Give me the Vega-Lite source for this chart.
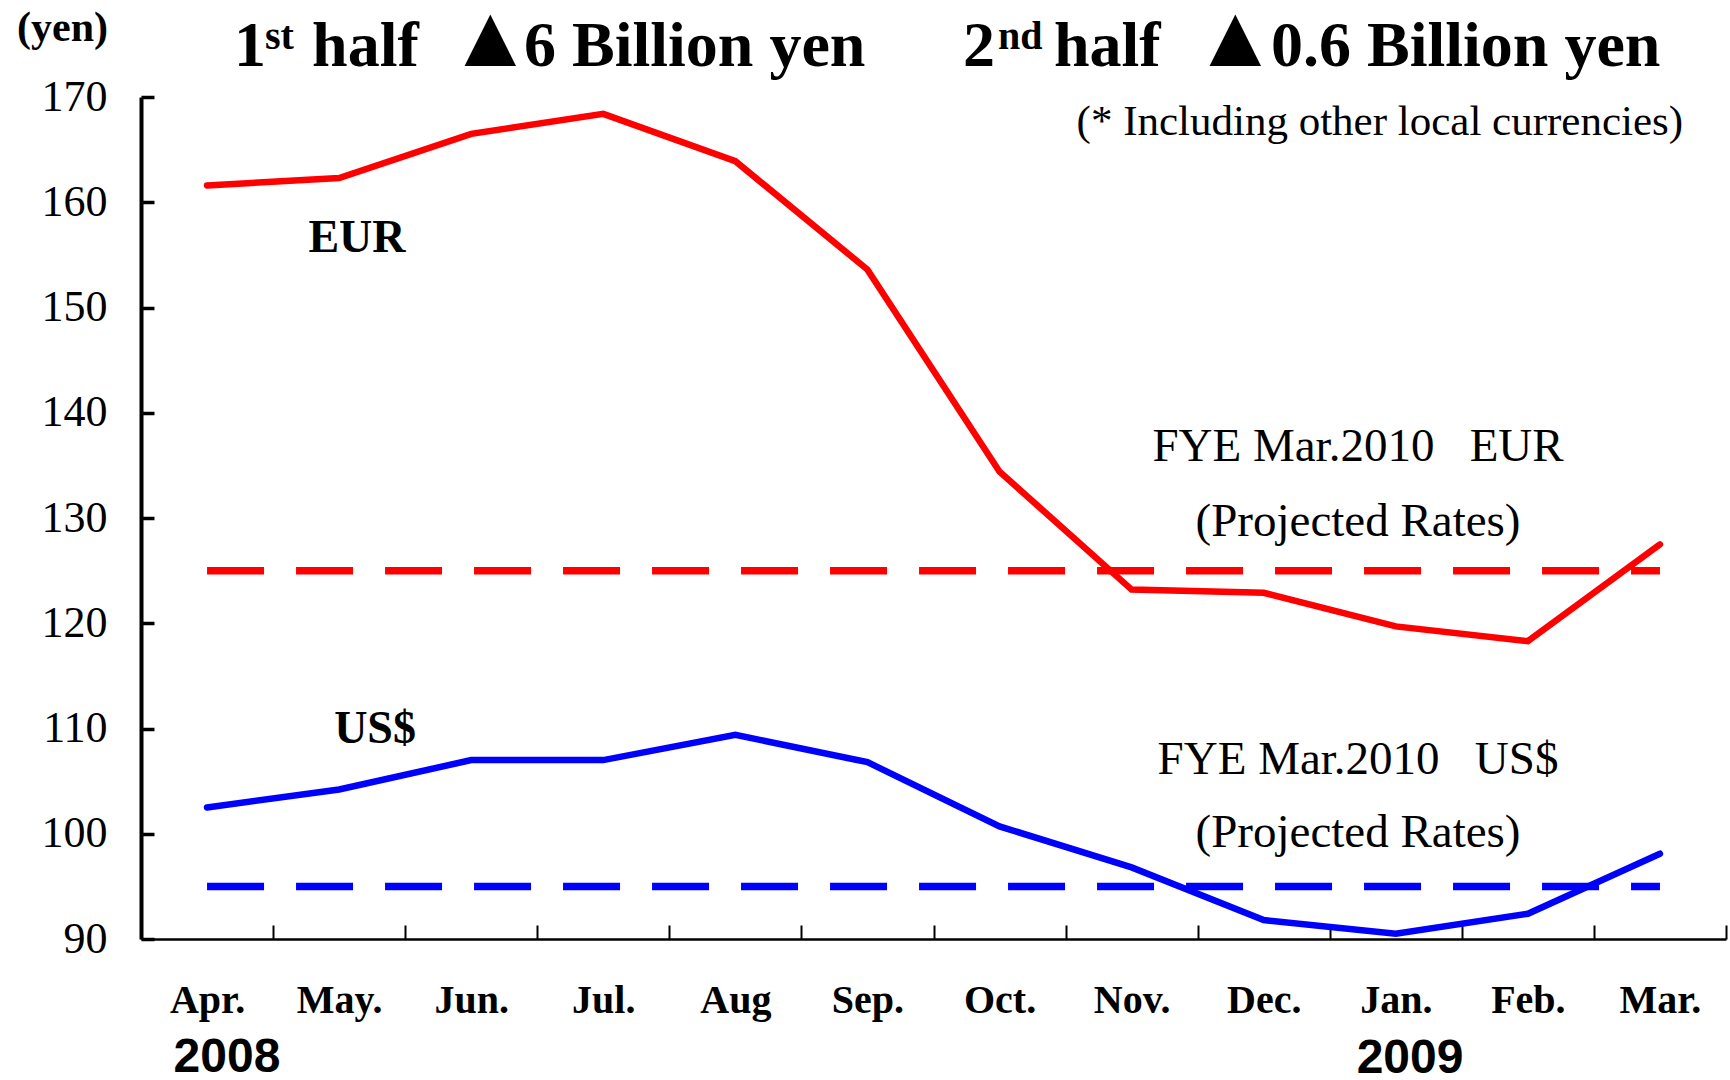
{
  "$schema": "https://vega.github.io/schema/vega-lite/v6.json",
  "width": 1585,
  "height": 842,
  "autosize": {"type": "none"},
  "padding": {"left": 141, "top": 97, "right": 4, "bottom": 141},
  "background": "white",
  "config": {"view": {"stroke": null}, "font": "Liberation Serif"},
  "datasets": {
    "fx": [
      {"currency": "EUR", "month": "Apr.", "rate": 161.6},
      {"currency": "EUR", "month": "May.", "rate": 162.3},
      {"currency": "EUR", "month": "Jun.", "rate": 166.5},
      {"currency": "EUR", "month": "Jul.", "rate": 168.4},
      {"currency": "EUR", "month": "Aug", "rate": 163.9},
      {"currency": "EUR", "month": "Sep.", "rate": 153.6},
      {"currency": "EUR", "month": "Oct.", "rate": 134.4},
      {"currency": "EUR", "month": "Nov.", "rate": 123.2},
      {"currency": "EUR", "month": "Dec.", "rate": 122.9},
      {"currency": "EUR", "month": "Jan.", "rate": 119.7},
      {"currency": "EUR", "month": "Feb.", "rate": 118.3},
      {"currency": "EUR", "month": "Mar.", "rate": 127.5},
      {"currency": "US$", "month": "Apr.", "rate": 102.5},
      {"currency": "US$", "month": "May.", "rate": 104.2},
      {"currency": "US$", "month": "Jun.", "rate": 107.0},
      {"currency": "US$", "month": "Jul.", "rate": 107.0},
      {"currency": "US$", "month": "Aug", "rate": 109.4},
      {"currency": "US$", "month": "Sep.", "rate": 106.8},
      {"currency": "US$", "month": "Oct.", "rate": 100.7},
      {"currency": "US$", "month": "Nov.", "rate": 96.8},
      {"currency": "US$", "month": "Dec.", "rate": 91.8},
      {"currency": "US$", "month": "Jan.", "rate": 90.5},
      {"currency": "US$", "month": "Feb.", "rate": 92.4},
      {"currency": "US$", "month": "Mar.", "rate": 98.1}
    ],
    "proj": [
      {"currency": "EUR", "month": "Apr.", "rate": 125},
      {"currency": "EUR", "month": "Mar.", "rate": 125},
      {"currency": "US$", "month": "Apr.", "rate": 95},
      {"currency": "US$", "month": "Mar.", "rate": 95}
    ],
    "notes": [
      {"kind": "title", "text": "1", "pos": 0.704, "value": 172.9},
      {"kind": "title", "text": "half", "pos": 1.295, "value": 172.9},
      {"kind": "title", "text": "6 Billion yen", "pos": 2.9, "value": 172.9},
      {"kind": "title", "text": "2", "pos": 6.224, "value": 172.9},
      {"kind": "title", "text": "half", "pos": 6.912, "value": 172.9},
      {"kind": "title", "text": "0.6 Billion yen", "pos": 8.555, "value": 172.9},
      {"kind": "triangle", "text": "▲", "pos": 2.315, "value": 172.9},
      {"kind": "triangle", "text": "▲", "pos": 7.955, "value": 172.9},
      {"kind": "sup", "text": "st", "pos": 0.939, "value": 174.6},
      {"kind": "sup", "text": "nd", "pos": 6.489, "value": 174.6},
      {"kind": "note", "text": "(* Including other local currencies)", "pos": 11.675, "value": 166.4},
      {"kind": "projection", "text": "FYE Mar.2010\u00a0\u00a0\u00a0EUR", "pos": 9.214, "value": 135.42},
      {"kind": "projection", "text": "(Projected Rates)", "pos": 9.214, "value": 128.3},
      {"kind": "projection", "text": "FYE Mar.2010\u00a0\u00a0\u00a0US$", "pos": 9.214, "value": 105.7},
      {"kind": "projection", "text": "(Projected Rates)", "pos": 9.214, "value": 98.74},
      {"kind": "series", "text": "EUR", "pos": 1.635, "value": 155.27},
      {"kind": "series", "text": "US$", "pos": 1.772, "value": 108.62},
      {"kind": "year", "text": "2008", "pos": 0.651, "value": 77.36},
      {"kind": "year", "text": "2009", "pos": 9.608, "value": 77.25}
    ]
  },
  "layer": [
    {
      "layer": [
        {
          "data": {"name": "proj"},
          "mark": {"type": "line", "strokeDash": [57, 32], "strokeWidth": 7.5, "strokeCap": "butt"},
          "encoding": {
            "x": {
              "field": "month", "type": "nominal",
              "scale": {"type": "band", "domain": ["Apr.", "May.", "Jun.", "Jul.", "Aug", "Sep.", "Oct.", "Nov.", "Dec.", "Jan.", "Feb.", "Mar."], "paddingInner": 0, "paddingOuter": 0},
              "axis": {
                "title": null, "labelAngle": 0, "grid": false,
                "domainColor": "black", "domainWidth": 2.5,
                "tickColor": "black", "tickWidth": 2, "tickSize": -14, "tickBand": "extent",
                "labelFont": "Liberation Serif", "labelFontWeight": "bold", "labelFontSize": 40, "labelColor": "black",
                "labelPadding": 55
              }
            },
            "y": {
              "field": "rate", "type": "quantitative",
              "scale": {"domain": [90, 170], "nice": false, "zero": false},
              "axis": {
                "title": "(yen)", "titleAngle": 0, "titleX": -79, "titleY": -57, "titleAlign": "center", "titleBaseline": "alphabetic",
                "titleFont": "Liberation Serif", "titleFontWeight": "bold", "titleFontSize": 42, "titleColor": "black",
                "values": [90, 100, 110, 120, 130, 140, 150, 160, 170], "format": "d", "grid": false,
                "domainColor": "black", "domainWidth": 4,
                "tickColor": "black", "tickWidth": 3.5, "tickSize": -13,
                "labelFont": "Liberation Serif", "labelFontSize": 44, "labelColor": "black", "labelPadding": 47
              }
            },
            "color": {"field": "currency", "type": "nominal", "scale": {"domain": ["EUR", "US$"], "range": ["#ff0000", "#0000ff"]}, "legend": null}
          }
        },
        {
          "data": {"name": "fx"},
          "mark": {"type": "line", "strokeWidth": 6.5, "strokeCap": "round"},
          "encoding": {
            "x": {"field": "month", "type": "nominal"},
            "y": {"field": "rate", "type": "quantitative"},
            "color": {"field": "currency", "type": "nominal", "legend": null}
          }
        }
      ]
    },
    {
      "data": {"name": "notes"},
      "transform": [{"filter": "datum.kind === 'title'"}],
      "mark": {"type": "text", "font": "Liberation Serif", "fontWeight": "bold", "fontSize": 64, "align": "left", "baseline": "alphabetic", "color": "black"},
      "encoding": {
        "x": {"field": "pos", "type": "quantitative", "scale": {"domain": [0, 12], "nice": false, "zero": false}, "axis": null},
        "y": {"field": "value", "type": "quantitative"},
        "text": {"field": "text"}
      }
    },
    {
      "data": {"name": "notes"},
      "transform": [{"filter": "datum.kind === 'triangle'"}],
      "mark": {"type": "text", "font": "Liberation Serif", "fontWeight": "bold", "fontSize": 88, "align": "left", "baseline": "alphabetic", "color": "black"},
      "encoding": {
        "x": {"field": "pos", "type": "quantitative", "scale": {"domain": [0, 12], "nice": false, "zero": false}, "axis": null},
        "y": {"field": "value", "type": "quantitative"},
        "text": {"field": "text"}
      }
    },
    {
      "data": {"name": "notes"},
      "transform": [{"filter": "datum.kind === 'sup'"}],
      "mark": {"type": "text", "font": "Liberation Serif", "fontWeight": "bold", "fontSize": 40, "align": "left", "baseline": "alphabetic", "color": "black"},
      "encoding": {
        "x": {"field": "pos", "type": "quantitative", "scale": {"domain": [0, 12], "nice": false, "zero": false}, "axis": null},
        "y": {"field": "value", "type": "quantitative"},
        "text": {"field": "text"}
      }
    },
    {
      "data": {"name": "notes"},
      "transform": [{"filter": "datum.kind === 'note'"}],
      "mark": {"type": "text", "font": "Liberation Serif", "fontSize": 43, "align": "right", "baseline": "alphabetic", "color": "black"},
      "encoding": {
        "x": {"field": "pos", "type": "quantitative", "scale": {"domain": [0, 12], "nice": false, "zero": false}, "axis": null},
        "y": {"field": "value", "type": "quantitative"},
        "text": {"field": "text"}
      }
    },
    {
      "data": {"name": "notes"},
      "transform": [{"filter": "datum.kind === 'projection'"}],
      "mark": {"type": "text", "font": "Liberation Serif", "fontSize": 47, "align": "center", "baseline": "alphabetic", "color": "black"},
      "encoding": {
        "x": {"field": "pos", "type": "quantitative", "scale": {"domain": [0, 12], "nice": false, "zero": false}, "axis": null},
        "y": {"field": "value", "type": "quantitative"},
        "text": {"field": "text"}
      }
    },
    {
      "data": {"name": "notes"},
      "transform": [{"filter": "datum.kind === 'series'"}],
      "mark": {"type": "text", "font": "Liberation Serif", "fontWeight": "bold", "fontSize": 46, "align": "center", "baseline": "alphabetic", "color": "black"},
      "encoding": {
        "x": {"field": "pos", "type": "quantitative", "scale": {"domain": [0, 12], "nice": false, "zero": false}, "axis": null},
        "y": {"field": "value", "type": "quantitative"},
        "text": {"field": "text"}
      }
    },
    {
      "data": {"name": "notes"},
      "transform": [{"filter": "datum.kind === 'year'"}],
      "mark": {"type": "text", "font": "Liberation Sans", "fontWeight": "bold", "fontSize": 48, "align": "center", "baseline": "alphabetic", "color": "black"},
      "encoding": {
        "x": {"field": "pos", "type": "quantitative", "scale": {"domain": [0, 12], "nice": false, "zero": false}, "axis": null},
        "y": {"field": "value", "type": "quantitative"},
        "text": {"field": "text"}
      }
    }
  ],
  "resolve": {"scale": {"x": "independent"}}
}
